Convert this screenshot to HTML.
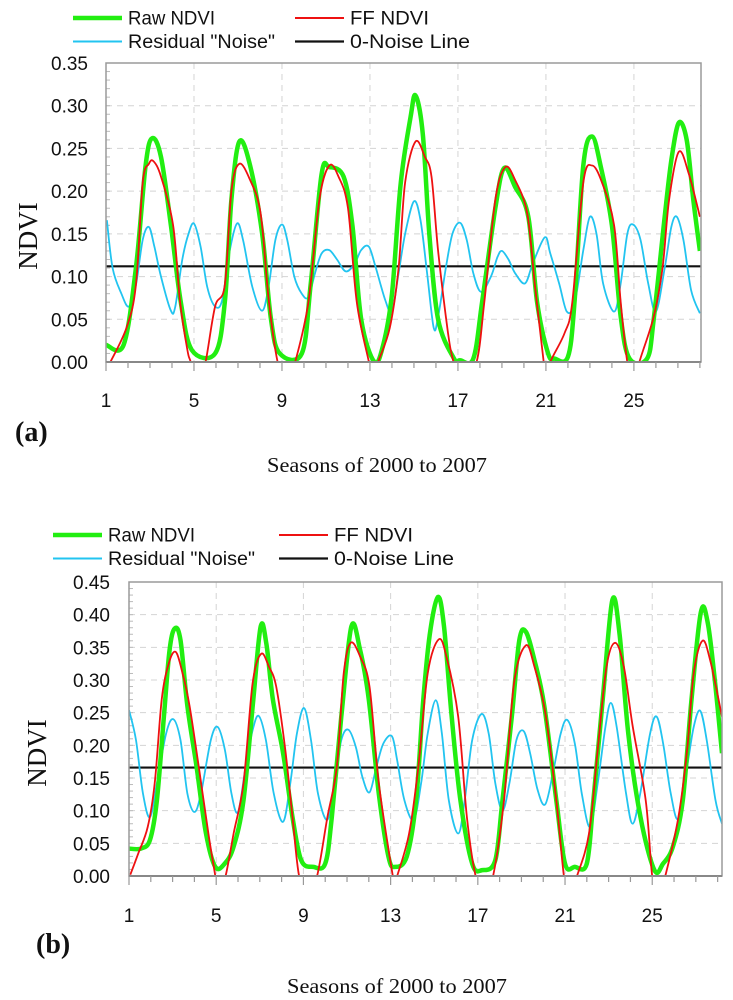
<!DOCTYPE html>
<html><head><meta charset="utf-8"><style>
html,body{margin:0;padding:0;background:#fff;}
svg{display:block;}
.tk{font-family:"Liberation Sans",sans-serif;font-size:19px;fill:#111;}
.lg{font-family:"Liberation Sans",sans-serif;font-size:19px;fill:#111;}
.sr{font-family:"Liberation Serif",serif;fill:#111;}
</style></head><body>
<svg id="root" width="733" height="1000" viewBox="0 0 733 1000" xmlns="http://www.w3.org/2000/svg"></svg>
<script>
// ---------- Chart (a) data ----------
const aRawX=[1,1.8,2.36,2.8,3.1,3.5,3.95,4.4,4.9,5.96,6.4,6.7,7.06,7.55,8.1,8.5,8.9,9.9,10.3,10.8,11.15,11.8,12.2,12.6,13.2,13.6,14.0,14.4,14.85,15.07,15.4,15.7,16.1,16.8,17.1,17.7,18.1,18.7,19.1,19.6,20.2,20.6,21.1,21.4,22.0,22.3,22.7,23.1,23.5,24.0,24.4,24.8,25.6,25.9,26.4,26.7,27.04,27.4,27.7,28.0];
const aRawY=[0.02,0.02,0.11,0.23,0.262,0.24,0.16,0.07,0.014,0.01,0.07,0.19,0.258,0.23,0.15,0.05,0.01,0.01,0.09,0.22,0.228,0.217,0.16,0.05,0.0,0.02,0.08,0.21,0.287,0.312,0.268,0.15,0.05,0.005,0.002,0.004,0.07,0.18,0.227,0.205,0.17,0.07,0.01,0.004,0.006,0.07,0.23,0.264,0.228,0.16,0.053,0.004,0.004,0.05,0.17,0.236,0.28,0.26,0.19,0.13];
const aFfX=[1.2,1.93,2.36,2.67,2.95,3.16,3.5,4.05,4.37,4.7,4.85,5.2,5.53,5.96,6.4,6.7,7.06,7.55,8.03,8.4,8.8,9.2,9.6,10.2,10.7,11.15,11.57,12.0,12.4,12.95,13.1,13.37,13.9,14.3,14.6,15.07,15.5,15.8,16.1,16.55,16.8,17.2,17.85,18.2,18.7,19.15,19.6,20.15,20.5,20.9,21.05,21.2,21.85,22.2,22.7,23.1,23.55,24.1,24.4,24.7,25.0,25.25,25.9,26.3,26.6,27.04,27.5,28.0];
const aFfY=[0,0.04,0.09,0.21,0.232,0.235,0.217,0.16,0.07,0.014,0,-0.03,0,0.065,0.09,0.2,0.232,0.213,0.174,0.072,0,-0.03,0,0.07,0.19,0.23,0.217,0.18,0.07,0,-0.02,0,0.04,0.11,0.21,0.258,0.24,0.217,0.13,0.034,0,-0.03,0,0.07,0.19,0.228,0.213,0.174,0.09,0,-0.02,0,0.034,0.07,0.21,0.23,0.21,0.16,0.07,0,-0.03,0,0.053,0.11,0.19,0.246,0.22,0.17];
const aResX=[1.04,1.3,1.7,2.04,2.36,2.67,2.95,3.2,3.5,3.95,4.15,4.47,4.75,5.0,5.3,5.6,5.96,6.28,6.6,6.95,7.23,7.65,8.1,8.4,8.7,9.0,9.24,9.56,9.9,10.2,10.5,10.8,11.15,11.5,11.9,12.3,12.6,12.95,13.27,13.7,14.0,14.3,14.6,15.0,15.3,15.6,15.9,16.1,16.45,16.75,17.1,17.4,17.7,18.05,18.5,18.8,19.0,19.3,19.6,20.05,20.4,20.95,21.2,21.6,21.95,22.3,22.7,23.0,23.3,23.6,24.1,24.4,24.7,24.96,25.3,25.65,26.0,26.4,26.7,26.95,27.25,27.6,28.0];
const aResY=[0.166,0.11,0.08,0.065,0.09,0.143,0.158,0.135,0.10,0.06,0.065,0.12,0.15,0.162,0.135,0.088,0.065,0.072,0.127,0.162,0.143,0.088,0.06,0.09,0.143,0.161,0.143,0.10,0.08,0.076,0.104,0.127,0.131,0.12,0.106,0.115,0.131,0.135,0.11,0.072,0.059,0.104,0.15,0.188,0.166,0.104,0.04,0.053,0.11,0.15,0.163,0.143,0.104,0.082,0.10,0.123,0.13,0.12,0.104,0.092,0.115,0.146,0.127,0.092,0.059,0.069,0.131,0.17,0.15,0.092,0.059,0.092,0.15,0.161,0.143,0.092,0.059,0.11,0.158,0.17,0.143,0.084,0.057];
const aZero=0.112;
const aTicks=["0.00","0.05","0.10","0.15","0.20","0.25","0.30","0.35"];
const xTickLabels=["1","5","9","13","17","21","25"];

// ---------- Chart (b) data ----------
const bRawX=[1,1.54,1.96,2.28,2.6,2.86,3.1,3.36,3.68,4.1,4.53,4.96,5.39,5.8,6.25,6.7,7.04,7.3,7.6,8.07,8.5,8.9,9.46,10.0,10.3,10.74,11.2,11.6,12.0,12.46,12.9,13.2,13.74,14.17,14.5,14.8,15.17,15.45,15.8,16.2,16.74,17.2,17.8,18.13,18.56,18.9,19.2,19.6,20.05,20.6,21.0,21.45,22.0,22.3,22.73,23.17,23.5,23.9,24.46,25.1,25.5,25.95,26.4,26.8,27.23,27.55,27.9,28.2];
const bRawY=[0.042,0.042,0.055,0.116,0.244,0.346,0.379,0.361,0.26,0.167,0.065,0.014,0.019,0.045,0.116,0.27,0.382,0.356,0.27,0.188,0.09,0.024,0.014,0.019,0.09,0.244,0.382,0.346,0.27,0.126,0.03,0.014,0.03,0.116,0.27,0.371,0.427,0.382,0.244,0.116,0.019,0.009,0.024,0.116,0.244,0.36,0.374,0.33,0.26,0.116,0.019,0.014,0.019,0.116,0.27,0.422,0.371,0.218,0.09,0.009,0.019,0.045,0.116,0.27,0.404,0.387,0.29,0.188];
const bFfX=[1.06,1.43,1.86,2.18,2.5,2.82,3.14,3.46,3.78,4.2,4.64,4.96,5.1,5.43,5.8,6.25,6.67,7.06,7.42,7.75,8.17,8.5,8.8,9.2,9.63,10.1,10.53,10.85,11.17,11.6,12.03,12.46,13.1,13.2,13.3,13.85,14.27,14.7,15.2,15.56,16.1,16.5,16.9,17.3,17.7,18.2,18.66,19.2,19.6,20.1,20.6,20.95,21.2,21.55,22.1,22.5,22.9,23.3,23.7,24.1,24.7,25.0,25.3,25.6,26.2,26.6,26.9,27.3,27.66,28.2];
const bFfY=[0.002,0.035,0.075,0.142,0.27,0.325,0.343,0.31,0.26,0.167,0.065,0,-0.03,0,0.065,0.142,0.295,0.34,0.32,0.29,0.193,0.09,0,-0.03,0,0.09,0.167,0.31,0.357,0.336,0.29,0.142,0,-0.01,0,0.065,0.167,0.31,0.362,0.336,0.244,0.09,0,-0.03,0,0.116,0.295,0.353,0.32,0.249,0.116,0,-0.03,0,0.065,0.193,0.32,0.357,0.32,0.23,0.116,0,-0.03,0,0.09,0.193,0.31,0.36,0.33,0.244];
const bResX=[1,1.32,1.64,1.96,2.28,2.7,3.03,3.36,3.68,4.0,4.3,4.75,5.07,5.4,5.7,6.0,6.35,6.67,6.95,7.28,7.64,8.07,8.4,8.7,9.03,9.35,9.67,10.1,10.42,10.74,11.06,11.4,11.7,12.03,12.35,12.67,13.06,13.3,13.63,14.06,14.4,14.7,15.07,15.35,15.67,16.1,16.4,16.74,17.17,17.5,17.8,18.13,18.45,18.77,19.1,19.4,19.74,20.1,20.5,20.8,21.1,21.45,21.77,22.15,22.5,22.85,23.1,23.37,23.8,24.1,24.45,24.9,25.2,25.5,25.85,26.2,26.6,26.9,27.2,27.5,27.9,28.2];
const bResY=[0.254,0.208,0.126,0.09,0.142,0.218,0.24,0.208,0.126,0.098,0.126,0.208,0.228,0.193,0.126,0.098,0.167,0.223,0.245,0.208,0.126,0.083,0.142,0.218,0.257,0.208,0.126,0.086,0.142,0.208,0.224,0.198,0.152,0.128,0.167,0.203,0.214,0.177,0.116,0.086,0.142,0.218,0.269,0.218,0.116,0.065,0.116,0.208,0.248,0.218,0.142,0.10,0.142,0.208,0.222,0.188,0.132,0.11,0.167,0.218,0.239,0.203,0.126,0.075,0.142,0.228,0.265,0.228,0.126,0.08,0.126,0.218,0.244,0.203,0.126,0.088,0.167,0.228,0.253,0.208,0.116,0.08];
const bZero=0.166;
const bTicks=["0.00","0.05","0.10","0.15","0.20","0.25","0.30","0.35","0.40","0.45"];

const NS="http://www.w3.org/2000/svg";
const root=document.getElementById('root');
function mk(tag,attrs,parent){const e=document.createElementNS(NS,tag);for(const k in attrs)e.setAttribute(k,attrs[k]);(parent||root).appendChild(e);return e;}

function smoothPath(xs,ys,sx,sy){
  const p=xs.map((x,i)=>[sx(x),sy(ys[i])]);
  let d="M"+p[0][0].toFixed(1)+","+p[0][1].toFixed(1);
  for(let i=0;i<p.length-1;i++){
    const p0=p[Math.max(0,i-1)],p1=p[i],p2=p[i+1],p3=p[Math.min(p.length-1,i+2)];
    const c1x=p1[0]+(p2[0]-p0[0])/6,c1y=p1[1]+(p2[1]-p0[1])/6;
    const c2x=p2[0]-(p3[0]-p1[0])/6,c2y=p2[1]-(p3[1]-p1[1])/6;
    d+=" C"+c1x.toFixed(1)+","+c1y.toFixed(1)+" "+c2x.toFixed(1)+","+c2y.toFixed(1)+" "+p2[0].toFixed(1)+","+p2[1].toFixed(1);
  }
  return d;
}

function chart(cfg){
  const g=mk('g',{});
  
  
  const {L,R,T,B,xMax,yMax,ticks}=cfg;
  const sx=v=>L+(v-1)/(xMax-1)*(R-L);
  const sy=v=>B-v/yMax*(B-T);
  // grid
  const grid=mk('g',{},g);
  
  
  ticks.forEach((t,i)=>{const v=parseFloat(t);if(v>0&&v<yMax-1e-9)mk('line',{x1:L,x2:R,y1:sy(v),y2:sy(v),stroke:'#d4d4d4','stroke-width':1,'stroke-dasharray':'6,5'},grid);});
  xTickLabels.forEach(t=>{const v=+t;if(v>1)mk('line',{x1:sx(v),x2:sx(v),y1:T,y2:B,stroke:'#d4d4d4','stroke-width':1,'stroke-dasharray':'6,5'},grid);});
  // minor y ticks
  for(let v=0.01;v<yMax;v+=0.01){mk('line',{x1:L,x2:L+4,y1:sy(v),y2:sy(v),stroke:'#bbb','stroke-width':1},g);}
  // clip
  const cp=mk('clipPath',{id:'clip-'+cfg.id},g);
  mk('rect',{x:L,y:T,width:R-L,height:B-T},cp);
  const plot=mk('g',{'clip-path':'url(#clip-'+cfg.id+')'},g);
  
  
  const zl=mk('line',{x1:L,x2:R,y1:sy(cfg.zero),y2:sy(cfg.zero),stroke:'#111','stroke-width':2.2},plot);
  
  
  const res=mk('path',{d:smoothPath(cfg.resX,cfg.resY,sx,sy),fill:'none',stroke:'#22c4f0','stroke-width':1.8},plot);
  
  
  const raw=mk('path',{d:smoothPath(cfg.rawX,cfg.rawY,sx,sy),fill:'none',stroke:'#22ee11','stroke-width':4.5,'stroke-linejoin':'round'},plot);
  
  
  const ff=mk('path',{d:smoothPath(cfg.ffX,cfg.ffY,sx,sy),fill:'none',stroke:'#ee1111','stroke-width':1.8},plot);
  
  
  // frame
  const fr=mk('rect',{x:L,y:T,width:R-L,height:B-T,fill:'none',stroke:'#9a9a9a','stroke-width':1.5},g);
  
  
  mk('line',{x1:L,x2:R,y1:B,y2:B,stroke:'#888','stroke-width':2},g);
  // x minor ticks
  for(let s=1;s<=Math.floor(xMax);s++){mk('line',{x1:sx(s),x2:sx(s),y1:B,y2:B+(((s-1)%4===0)?9:6),stroke:'#999','stroke-width':1.2},g);}
  // y labels
  ticks.forEach(t=>{const tx=mk('text',{x:cfg.labR,y:sy(parseFloat(t))+7,'text-anchor':'end',class:'tk'},g);tx.textContent=t;
    
    });
  xTickLabels.forEach(t=>{const tx=mk('text',{x:sx(+t),y:cfg.xlabY,'text-anchor':'middle',class:'tk'},g);tx.textContent=t;
    
    });
  // y title
  const yt=mk('text',{x:0,y:0,transform:`translate(${cfg.ytX},${cfg.ytY}) rotate(-90)`,'text-anchor':'middle',class:'sr','font-size':27},g);
  yt.textContent='NDVI';
  
  
  // panel label & x title
  const pl=mk('text',{x:cfg.plX,y:cfg.plY,class:'sr','font-size':28,'font-weight':'bold'},g);
  pl.textContent=cfg.panel;
  
  
  const xt=mk('text',{x:cfg.xtX,y:cfg.xtY,class:'sr','font-size':21,textLength:220,lengthAdjust:'spacingAndGlyphs'},g);
  xt.textContent='Seasons of 2000 to 2007';
  
  
  // legend
  const lg=mk('g',{},g);
  
  
  const items=[["Raw NDVI",'#22ee11',4.5,0,0,87],["FF NDVI",'#ee1111',2,1,0,79],["Residual \"Noise\"",'#22c4f0',2,0,1,147],["0-Noise Line",'#111',2.2,1,1,120]];
  items.forEach(it=>{
    const lx=it[3]?cfg.lg2:cfg.lg1, ly=cfg.lgY+it[4]*23.5;
    const ln=mk('line',{x1:lx,x2:lx+49,y1:ly,y2:ly,stroke:it[1],'stroke-width':it[2]},lg);
    
    
    const tx=mk('text',{x:lx+55,y:ly+6.5,class:'lg',textLength:it[5],lengthAdjust:'spacingAndGlyphs'},lg);
    tx.textContent=it[0];
    
    
  });
}

chart({id:'chart-a',L:106,R:701,T:63,B:362,xMax:28.05,yMax:0.35,ticks:aTicks,zero:aZero,
  rawX:aRawX,rawY:aRawY,ffX:aFfX,ffY:aFfY,resX:aResX,resY:aResY,labR:88,xlabY:407,ytX:37,ytY:236,
  panel:'(a)',plX:15,plY:441,xtX:267,xtY:472,lg1:73,lg2:295,lgY:18});
chart({id:'chart-b',L:129,R:722,T:582,B:876,xMax:28.2,yMax:0.45,ticks:bTicks,zero:bZero,
  rawX:bRawX,rawY:bRawY,ffX:bFfX,ffY:bFfY,resX:bResX,resY:bResY,labR:110,xlabY:922,ytX:46,ytY:753,
  panel:'(b)',plX:36,plY:953,xtX:287,xtY:993,lg1:53,lg2:279,lgY:535});
</script>
</body></html>
